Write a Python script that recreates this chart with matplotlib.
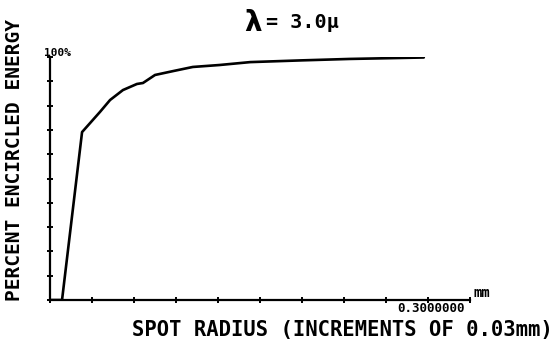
import matplotlib
matplotlib.use("Agg")
import matplotlib.pyplot as plt

# Encircled energy versus spot radius (mm), wavelength 3.0 micron
radius_mm = [0.0, 0.0086, 0.0229, 0.0357, 0.0429, 0.0521, 0.0621, 0.0664,
             0.0750, 0.0879, 0.1020, 0.1210, 0.1430, 0.1790, 0.2140, 0.2500, 0.2670]
energy_pct = [0.0, 0.0, 69.1, 77.4, 82.3, 86.4, 88.9, 89.3,
              92.6, 94.2, 95.9, 96.7, 97.9, 98.6, 99.2, 99.6, 99.8]

x_ticks = [0.03 * i for i in range(11)]
y_ticks = [10 * i for i in range(11)]

mono = "DejaVu Sans Mono"

fig = plt.figure(figsize=(5.53, 3.46), dpi=100)
ax = fig.add_axes([50 / 553, 46 / 346, 420 / 553, 243 / 346])

ax.plot(radius_mm, energy_pct, color="black", lw=1.9, solid_capstyle="round")

ax.set_xlim(0, 0.3)
ax.set_ylim(0, 100)
for s in ("top", "right"):
    ax.spines[s].set_visible(False)
for s in ("left", "bottom"):
    ax.spines[s].set_linewidth(1.6)
ax.set_xticks(x_ticks)
ax.set_yticks(y_ticks)
ax.tick_params(direction="inout", length=5, width=1.4, labelbottom=False, labelleft=False)

# Axis annotations
fig.text(15 / 553, 1 - 160 / 346, "PERCENT ENCIRCLED ENERGY", rotation=90,
         ha="center", va="center", family=mono, fontsize=14, fontweight="bold")
fig.text(342 / 553, 1 - 330 / 346, "SPOT RADIUS (INCREMENTS OF 0.03mm)",
         ha="center", va="center", family=mono, fontsize=14.8, fontweight="bold")
fig.text(431 / 553, 1 - 309 / 346, "0.3000000", ha="center", va="center",
         family=mono, fontsize=9, fontweight="bold")
fig.text(473 / 553, 1 - 293 / 346, "mm", ha="left", va="center",
         family=mono, fontsize=10, fontweight="bold")
fig.text(44 / 553, 1 - 53 / 346, "100%", ha="left", va="center",
         family=mono, fontsize=8, fontweight="bold")

# Wavelength title
fig.text(253 / 553, 1 - 23 / 346, "λ", ha="center", va="center",
         fontsize=20, fontweight="bold", family="DejaVu Sans")
fig.text(266 / 553, 1 - 22 / 346, "= 3.0μ", ha="left", va="center",
         family=mono, fontsize=14.5, fontweight="bold")

fig.savefig("out.png", dpi=100)
